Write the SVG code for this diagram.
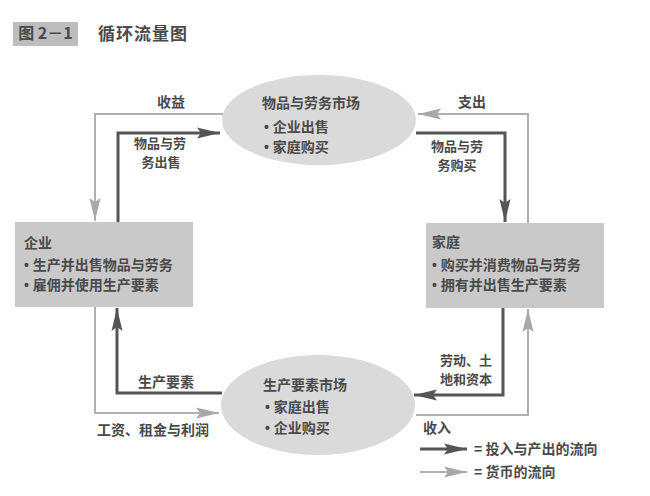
<svg xmlns="http://www.w3.org/2000/svg" width="650" height="496" viewBox="0 0 650 496">
<defs>
<marker id="ad" markerUnits="userSpaceOnUse" markerWidth="24" markerHeight="12" viewBox="0 0 24 12" refX="23" refY="6" orient="auto">
<path d="M0,0.5 L23,6 L0,11.5 L4,6 z" fill="#555"/>
</marker>
<marker id="ag" markerUnits="userSpaceOnUse" markerWidth="24" markerHeight="12" viewBox="0 0 24 12" refX="23" refY="6" orient="auto">
<path d="M0,0.5 L23,6 L0,11.5 L4,6 z" fill="#a8a8a8"/>
</marker>
<style>
text{font-family:"Noto Sans CJK SC","Noto Sans",sans-serif;fill:#4a4a4a;font-size:14px;font-weight:bold}
.b{font-family:"Liberation Sans",sans-serif}
.s{font-size:13px}
.d{fill:none;stroke:#555;stroke-width:3}
.g{fill:none;stroke:#b0b0b0;stroke-width:2}
.box{fill:#c9c9c9}
.ell{fill:#dadada}
.c{text-anchor:middle}
</style>
</defs>
<rect width="650" height="496" fill="#fff"/>
<g id="title">
<rect x="13" y="22" width="65" height="24" fill="#bdbdbd"/>
<text x="45.5" y="39" class="c" style="font-size:16px">图 2－1</text>
<text x="98" y="40" style="font-size:17px;letter-spacing:1px">循环流量图</text>
</g>
<g id="connectors">
<path class="g" d="M224 114 H95 V221" marker-end="url(#ag)"/>
<path class="g" d="M95 307 V413 H219" marker-end="url(#ag)"/>
<path class="g" d="M528 223 V114 H418" marker-end="url(#ag)"/>
<path class="g" d="M416 415 H528 V309" marker-end="url(#ag)"/>
<path class="d" d="M118 222 V133 H220" marker-end="url(#ad)"/>
<path class="d" d="M222 393 H117 V308" marker-end="url(#ad)"/>
<path class="d" d="M416 133 H505 V222" marker-end="url(#ad)"/>
<path class="d" d="M503 308 V395 H414" marker-end="url(#ad)"/>
<text x="171" y="107" class="c">收益</text>
<text class="c s"><tspan x="160" y="148">物品与劳</tspan><tspan x="161" y="167">务出售</tspan></text>
<text x="472" y="107" class="c">支出</text>
<text class="c s"><tspan x="457" y="151">物品与劳</tspan><tspan x="457" y="170">务购买</tspan></text>
<text x="166" y="387" class="c">生产要素</text>
<text x="153" y="435" class="c">工资、租金与利润</text>
<text class="c s"><tspan x="466" y="365">劳动、土</tspan><tspan x="466" y="384">地和资本</tspan></text>
<text x="423" y="433">收入</text>
</g>
<g id="goods-market">
<ellipse class="ell" cx="319" cy="120" rx="97" ry="45"/>
<text x="262" y="108">物品与劳务市场</text>
<text x="264" y="132"><tspan class="b">• </tspan>企业出售</text>
<text x="264" y="152"><tspan class="b">• </tspan>家庭购买</text>
</g>
<g id="factor-market">
<ellipse class="ell" cx="318" cy="405" rx="97" ry="50"/>
<text x="263" y="390">生产要素市场</text>
<text x="265" y="412"><tspan class="b">• </tspan>家庭出售</text>
<text x="265" y="433"><tspan class="b">• </tspan>企业购买</text>
</g>
<g id="firms">
<rect class="box" x="15" y="222" width="178" height="85"/>
<text x="24" y="248">企业</text>
<text x="24" y="270"><tspan class="b">• </tspan>生产并出售物品与劳务</text>
<text x="24" y="290"><tspan class="b">• </tspan>雇佣并使用生产要素</text>
</g>
<g id="households">
<rect class="box" x="426" y="223" width="178" height="85"/>
<text x="432" y="247">家庭</text>
<text x="432" y="270"><tspan class="b">• </tspan>购买并消费物品与劳务</text>
<text x="432" y="290"><tspan class="b">• </tspan>拥有并出售生产要素</text>
</g>
<g id="legend">
<path class="d" d="M420 449 H467" marker-end="url(#ad)"/>
<path class="g" d="M420 472 H467" marker-end="url(#ag)"/>
<text x="474" y="454">= 投入与产出的流向</text>
<text x="474" y="477">= 货币的流向</text>
</g>
</svg>
